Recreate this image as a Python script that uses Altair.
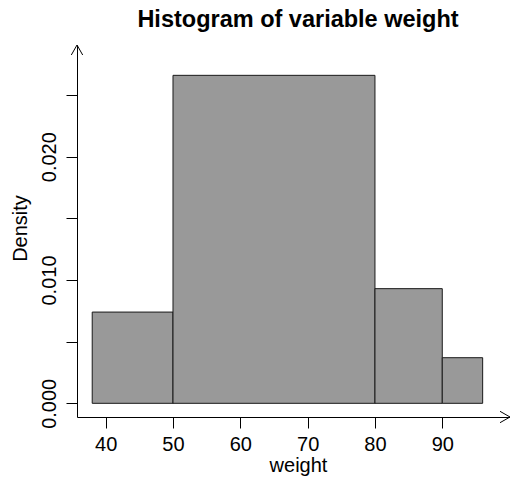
import altair as alt
import pandas as pd

# Histogram data
bin_start = [38, 50, 80, 90]
bin_end = [50, 80, 90, 96]
density = [0.0074, 0.0266, 0.0093, 0.0037]

x_ticks = [40, 50, 60, 70, 80, 90]
y_ticks = [0.0, 0.005, 0.010, 0.015, 0.020, 0.025]
y_labels_shown = ["0.000", "0.010", "0.020"]
main_title = ["Histogram of variable weight"]

df = pd.DataFrame({"start": bin_start, "end": bin_end, "density": density})

W, H = 433, 372
FONT = "Liberation Sans"

xscale = alt.Scale(domain=[35.74, 100.06], nice=False, zero=False)
yscale = alt.Scale(domain=[-0.00111, 0.02906], nice=False, zero=False)

bars = alt.Chart(df).mark_rect(
    fill="#999999", stroke="#1a1a1a", strokeWidth=1
).encode(
    x=alt.X("start:Q", scale=xscale,
            axis=alt.Axis(values=x_ticks, format="d", title="weight",
                          domain=True, domainColor="black", domainWidth=1,
                          ticks=True, tickColor="black", tickSize=11, tickWidth=1,
                          labelFont=FONT, labelFontSize=20, labelColor="black",
                          labelPadding=22, labelBaseline="alphabetic",
                          titleFont=FONT, titleFontSize=20, titleFontWeight="normal",
                          titleColor="black", titleBaseline="alphabetic",
                          titleX=221, titleY=54, titleAlign="center",
                          grid=False)),
    x2="end:Q",
    y=alt.Y("density:Q", scale=yscale,
            axis=alt.Axis(values=y_ticks, format=".3f", title="Density",
                          labelExpr="indexof(" + str(y_labels_shown) + ", datum.label) >= 0 ? datum.label : ''",
                          domain=True, domainColor="black", domainWidth=1,
                          ticks=True, tickColor="black", tickSize=11, tickWidth=1,
                          labelFont=FONT, labelFontSize=20, labelColor="black",
                          labelAngle=270, labelAlign="center", labelBaseline="alphabetic",
                          labelPadding=10.5, labelOverlap=False,
                          titleFont=FONT, titleFontSize=20, titleFontWeight="normal",
                          titleColor="black", titleAngle=270, titleAlign="center",
                          titleBaseline="alphabetic", titleX=-51, titleY=183,
                          grid=False)),
    y2=alt.Y2Datum(0),
)

up_arrow = alt.Chart(df.head(1)).mark_point(
    shape="M -0.57 1 L 0 0 L 0.57 1", filled=False, stroke="black",
    strokeWidth=1, size=400, opacity=1
).encode(x=alt.value(0), y=alt.value(0))

right_arrow = alt.Chart(df.head(1)).mark_point(
    shape="M -1 -0.57 L 0 0 L -1 0.57", filled=False, stroke="black",
    strokeWidth=1, size=400, opacity=1
).encode(x=alt.value(W), y=alt.value(H))

title_text = alt.Chart(pd.DataFrame({"t": main_title})).mark_text(
    font=FONT, fontSize=23.5, fontWeight="bold", color="black",
    align="center", baseline="alphabetic"
).encode(text="t:N", x=alt.value(221), y=alt.value(-18.3))

chart = alt.layer(bars, up_arrow, right_arrow, title_text).properties(
    width=W, height=H,
    background="white",
    autosize=alt.AutoSizeParams(type="none"),
    padding={"left": 69, "top": 37, "right": 0, "bottom": 59},
).configure_view(strokeWidth=0, stroke="transparent")

chart.save("out.html", embed_options={"renderer": "svg", "actions": False})
